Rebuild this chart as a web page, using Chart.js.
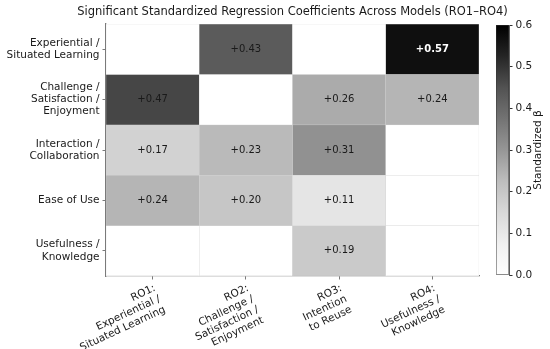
<!DOCTYPE html>
<html>
<head>
<meta charset="utf-8">
<script src="https://cdn.jsdelivr.net/npm/chart.js@4.4.1/dist/chart.umd.min.js"></script>
<style>
    html, body { margin: 0; padding: 0; background: #fff; }
    #wrap { position: relative; width: 550px; height: 349px; }
    #heat { position: absolute; left: 0; top: 0; }
    #cbar { position: absolute; left: 480px; top: 0; }
</style>
</head>
<body>
<div id="wrap">
    <canvas id="heat" width="550" height="349"></canvas>
    <canvas id="cbar" width="70" height="349"></canvas>
</div>
<script>
// ========================================
// DATA
// ========================================
const chartTitle = 'Significant Standardized Regression Coefficients Across Models (RO1\u2013RO4)';
const models = [
    ['RO1:', 'Experiential /', 'Situated Learning'],
    ['RO2:', 'Challenge /', 'Satisfaction /', 'Enjoyment'],
    ['RO3:', 'Intention', 'to Reuse'],
    ['RO4:', 'Usefulness /', 'Knowledge']
];
const predictors = [
    ['Experiential /', 'Situated Learning'],
    ['Challenge /', 'Satisfaction /', 'Enjoyment'],
    ['Interaction /', 'Collaboration'],
    ['Ease of Use'],
    ['Usefulness /', 'Knowledge']
];

// one row per predictor, one value per model (null = not significant)
const experiential = [null, 0.43, null, 0.57];
const challenge = [0.47, null, 0.26, 0.24];
const interaction = [0.17, 0.23, 0.31, null];
const easeOfUse = [0.24, 0.20, 0.11, null];
const usefulness = [null, null, 0.19, null];
const rows = [experiential, challenge, interaction, easeOfUse, usefulness];

const colorbarTicks = [0, 0.1, 0.2, 0.3, 0.4, 0.5, 0.6];
const vmin = 0;
const vmax = 0.6;

// ========================================
// COLORMAP (matplotlib "Greys")
// ========================================
const GREYS = ['#ffffff', '#f0f0f0', '#d9d9d9', '#bdbdbd', '#969696', '#737373', '#525252', '#252525', '#000000'];

function greyAt(t) {
    t = Math.max(0, Math.min(1, t));
    const pos = t * (GREYS.length - 1);
    const i = Math.min(Math.floor(pos), GREYS.length - 2);
    const f = pos - i;
    const a = parseInt(GREYS[i].slice(1, 3), 16);
    const b = parseInt(GREYS[i + 1].slice(1, 3), 16);
    const g = Math.round(a + (b - a) * f);
    return 'rgb(' + g + ',' + g + ',' + g + ')';
}

function cellColor(v) {
    if (v === null) return '#ffffff';
    return greyAt((v - vmin) / (vmax - vmin));
}

const FONT = '"DejaVu Sans", sans-serif';
const TEXT = '#1a1a1a';
const SPINE = '#7a7a7a';

// ========================================
// PLUGINS
// ========================================
// title centred over the heatmap axes, allowed to run wider than them
const axesTitle = {
    id: 'axesTitle',
    afterDraw(chart) {
        const ctx = chart.ctx;
        const area = chart.chartArea;
        ctx.save();
        ctx.font = '11.5px ' + FONT;
        ctx.fillStyle = TEXT;
        ctx.textAlign = 'center';
        ctx.textBaseline = 'middle';
        ctx.fillText(chartTitle, (area.left + area.right) / 2, 12);
        ctx.restore();
    }
};

const cellLabels = {
    id: 'cellLabels',
    afterDatasetsDraw(chart) {
        const ctx = chart.ctx;
        ctx.save();
        ctx.textAlign = 'center';
        ctx.textBaseline = 'middle';
        rows.forEach((row, r) => {
            const meta = chart.getDatasetMeta(r);
            row.forEach((v, c) => {
                if (v === null) return;
                const bar = meta.data[c];
                const y = (bar.y + bar.base) / 2;
                const strong = v >= 0.5;
                ctx.font = (strong ? 'bold ' : '') + '10px ' + FONT;
                ctx.fillStyle = strong ? '#ffffff' : TEXT;
                ctx.fillText('+' + v.toFixed(2), bar.x, y);
            });
        });
        ctx.restore();
    }
};

// x labels: rotated 25 deg, anchored at their top-right corner under each tick
const rotatedXLabels = {
    id: 'rotatedXLabels',
    afterDraw(chart) {
        const ctx = chart.ctx;
        const xs = chart.scales.x;
        const th = 25 * Math.PI / 180;
        const lh = 11.8;
        const yTop = chart.chartArea.bottom + 7;
        ctx.save();
        ctx.font = '10.5px ' + FONT;
        ctx.fillStyle = TEXT;
        ctx.textAlign = 'right';
        ctx.textBaseline = 'top';
        models.forEach((lines, i) => {
            const x = xs.getPixelForValue(i);
            ctx.save();
            ctx.translate(x, yTop);
            ctx.rotate(-th);
            lines.forEach((l, k) => ctx.fillText(l, 0, k * lh));
            ctx.restore();
        });
        ctx.restore();
    }
};

const colorbarTitle = {
    id: 'colorbarTitle',
    afterDraw(chart) {
        const ctx = chart.ctx;
        const area = chart.chartArea;
        ctx.save();
        ctx.font = '10.5px ' + FONT;
        ctx.fillStyle = TEXT;
        ctx.textAlign = 'center';
        ctx.textBaseline = 'middle';
        ctx.translate(58, (area.top + area.bottom) / 2);
        ctx.rotate(-Math.PI / 2);
        ctx.fillText('Standardized \u03b2', 0, 0);
        ctx.restore();
    }
};

// ========================================
// HEATMAP
// ========================================
function initializeHeatmap() {
    const el = document.getElementById('heat');

    const datasets = rows.map((row, r) => ({
        label: predictors[r].join(' '),
        data: row.map(() => [r, r + 1]),
        backgroundColor: row.map(cellColor),
        borderColor: '#d6d6d6',
        borderWidth: 0.5,
        borderSkipped: false,
        barPercentage: 1,
        categoryPercentage: 1,
        grouped: false
    }));

    new Chart(el, {
        type: 'bar',
        data: {
            labels: models.map(m => m.join(' ')),
            datasets: datasets
        },
        options: {
            responsive: false,
            animation: false,
            layout: { padding: { left: 0, right: 71, top: 24, bottom: 0 } },
            plugins: {
                legend: { display: false },
                tooltip: { enabled: false },
                title: { display: false }
            },
            scales: {
                x: {
                    type: 'category',
                    offset: true,
                    afterFit: s => { s.height = 73; },
                    ticks: { display: false },
                    grid: {
                        offset: false,
                        drawOnChartArea: false,
                        drawTicks: true,
                        tickLength: 3.5,
                        color: SPINE
                    },
                    border: { display: true, color: SPINE, width: 1.3 }
                },
                y: {
                    type: 'linear',
                    min: 0,
                    max: 5,
                    reverse: true,
                    afterFit: s => { s.width = 106; },
                    afterBuildTicks: s => {
                        s.ticks = predictors.map((_, i) => ({ value: i + 0.5 }));
                    },
                    ticks: {
                        color: TEXT,
                        padding: 3,
                        font: { family: FONT, size: 10.5, lineHeight: 1.15 },
                        callback: v => predictors[Math.floor(v)]
                    },
                    grid: {
                        drawOnChartArea: false,
                        drawTicks: true,
                        tickLength: 3.5,
                        color: SPINE
                    },
                    border: { display: true, color: SPINE, width: 1.3 }
                }
            }
        },
        plugins: [cellLabels, rotatedXLabels, axesTitle]
    });
}

// ========================================
// COLORBAR
// ========================================
function initializeColorbar() {
    const el = document.getElementById('cbar');

    new Chart(el, {
        type: 'bar',
        data: {
            labels: ['\u03b2'],
            datasets: [{
                data: [[vmin, vmax]],
                backgroundColor: function (context) {
                    const area = context.chart.chartArea;
                    if (!area) return '#888';
                    const g = context.chart.ctx.createLinearGradient(0, area.bottom, 0, area.top);
                    GREYS.forEach((c, i) => g.addColorStop(i / (GREYS.length - 1), c));
                    return g;
                },
                borderColor: '#333',
                borderWidth: 0.8,
                borderSkipped: false,
                barPercentage: 1,
                categoryPercentage: 1
            }]
        },
        options: {
            responsive: false,
            animation: false,
            layout: { padding: { left: 16, right: 0, top: 25, bottom: 74 } },
            plugins: {
                legend: { display: false },
                tooltip: { enabled: false }
            },
            scales: {
                x: { display: false },
                y: {
                    position: 'right',
                    min: vmin,
                    max: vmax,
                    afterFit: s => { s.width = 41; },
                    afterBuildTicks: s => {
                        s.ticks = colorbarTicks.map(v => ({ value: v }));
                    },
                    ticks: {
                        color: TEXT,
                        padding: 3,
                        font: { family: FONT, size: 10.5 },
                        callback: v => v.toFixed(1)
                    },
                    grid: {
                        drawOnChartArea: false,
                        drawTicks: true,
                        tickLength: 3.5,
                        color: '#333'
                    },
                    border: { display: true, color: '#333', width: 0.8 }
                }
            }
        },
        plugins: [colorbarTitle]
    });
}

document.addEventListener('DOMContentLoaded', function () {
    initializeHeatmap();
    initializeColorbar();
});
</script>
</body>
</html>
